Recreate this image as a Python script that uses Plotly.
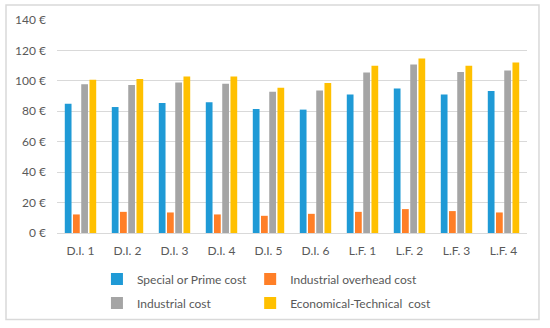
import plotly.graph_objects as go

categories = ["D.I. 1", "D.I. 2", "D.I. 3", "D.I. 4", "D.I. 5", "D.I. 6",
              "L.F. 1", "L.F. 2", "L.F. 3", "L.F. 4"]
prime_cost = [85.0, 82.8, 85.5, 85.9, 81.5, 81.1, 91.1, 95.0, 91.1, 93.3]
overhead_cost = [12.2, 13.9, 13.5, 12.2, 11.3, 12.6, 13.9, 15.7, 14.4, 13.5]
industrial_cost = [97.7, 97.2, 99.0, 98.1, 92.9, 93.7, 105.5, 110.7, 105.9, 106.8]
econ_tech_cost = [100.7, 101.2, 102.9, 102.9, 95.5, 98.6, 109.9, 114.7, 109.9, 112.0]
y_ticks = [0, 20, 40, 60, 80, 100, 120, 140]

series = [
    ("Special or Prime cost", prime_cost, "#1F9AD6", "legend"),
    ("Industrial overhead cost", overhead_cost, "#FF7F27", "legend2"),
    ("Industrial cost", industrial_cost, "#A5A5A5", "legend3"),
    ("Economical-Technical  cost", econ_tech_cost, "#FFC000", "legend4"),
]

fig = go.Figure()
for name, vals, col, lg in series:
    fig.add_trace(go.Bar(x=categories, y=vals, name=name, marker_color=col,
                         marker_line_width=0, legend=lg))

font_family = "Lato, Open Sans, sans-serif"
legend_common = dict(orientation="h", xanchor="left", yanchor="middle",
                     font=dict(size=12, color="#595959"),
                     itemwidth=30, bgcolor="rgba(0,0,0,0)")
col1_x, col2_x = 0.085, 0.411
row1_y, row2_y = -0.2103, -0.3224
fig.update_layout(
    width=550, height=328,
    margin=dict(l=57, r=23, t=20, b=94),
    paper_bgcolor="white", plot_bgcolor="white",
    barmode="group", bargap=0.3, bargroupgap=0.18,
    font=dict(family=font_family, size=12, color="#595959"),
    xaxis=dict(showgrid=False, showline=True, linecolor="#D9D9D9",
               ticks="", ticklabelstandoff=7,
               tickfont=dict(size=12, color="#595959")),
    yaxis=dict(range=[0, 140], tickvals=y_ticks,
               ticktext=[f"{v} €" for v in y_ticks],
               showgrid=True, gridcolor="#D9D9D9", gridwidth=1,
               zeroline=False, showline=False, ticks="", ticklabelstandoff=10,
               tickfont=dict(size=12, color="#595959")),
    legend=dict(x=col1_x, y=row1_y, **legend_common),
    legend2=dict(x=col2_x, y=row1_y, **legend_common),
    legend3=dict(x=col1_x, y=row2_y, **legend_common),
    legend4=dict(x=col2_x, y=row2_y, **legend_common),
    showlegend=True,
    shapes=[dict(type="rect", xref="paper", yref="paper",
                 x0=-0.1085, x1=1.0255, y0=-0.4065, y1=1.07,
                 line=dict(color="#D9D9D9", width=1.5))],
)

fig.write_html("out.html", config={"displayModeBar": False},
               post_script="document.body.style.margin='0';")
